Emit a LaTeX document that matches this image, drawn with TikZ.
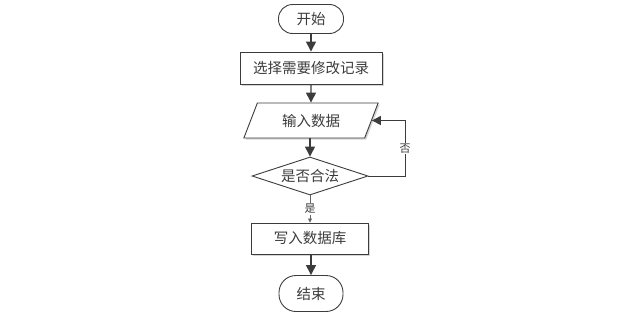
\documentclass[tikz,border=0pt]{standalone}
\usepackage{fontspec}
\newfontfamily\cjk{Noto Sans CJK SC}
\usetikzlibrary{shapes.geometric,arrows.meta,shadows}
\definecolor{ln}{HTML}{3C3C3C}
\tikzset{
  base/.style={draw=ln, line width=0.9pt, text=ln, inner sep=0pt, font=\cjk\fontsize{14.5}{16}\selectfont},
  sh/.style={drop shadow={shadow xshift=1.6pt, shadow yshift=-1.6pt, fill=gray!45, opacity=0.7}},
  term/.style={base, rectangle, rounded corners=14pt, minimum width=65pt, minimum height=29pt},
  proc/.style={base, sh, fill=white, rectangle, minimum height=32pt},
  io/.style={base, sh, fill=white, trapezium, trapezium left angle=61.5, trapezium right angle=118.5, trapezium stretches=true, minimum width=135pt, minimum height=35pt},
  dec/.style={base, fill=white, diamond, aspect=3.05, inner sep=0pt, minimum width=116pt, minimum height=38pt},
  arr/.style={draw=ln, line width=1.4pt, -{Triangle[length=10pt,width=10pt]}},
  thinarr/.style={draw=ln!80, line width=0.8pt, -{Triangle[length=4pt,width=4pt]}},
  lbl/.style={fill=white, text=ln, inner sep=1pt, font=\cjk\fontsize{11}{12}\selectfont}
}
\begin{document}
\begin{tikzpicture}[x=1pt,y=-1pt]
\useasboundingbox[fill=white] (0,0) rectangle (642,316);
\node[term] (start) at (311,19) {开始};
\node[proc, minimum width=142pt] (sel) at (311,68) {选择需要修改记录};
\node[io] (in) at (311,120.5) {输入数据};
\node[dec] (chk) at (310,176) {是否合法};
\node[proc, minimum width=117pt, minimum height=31pt] (wr) at (310,238.5) {写入数据库};
\node[term, minimum width=64pt, minimum height=36pt, rounded corners=17pt] (end) at (311,293.5) {结束};
\draw[arr] (start) -- (sel);
\draw[arr] (sel) -- (in);
\draw[arr] (in.south -| chk.north) -- (chk);
\draw[thinarr] (chk) -- node[lbl, pos=0.5] {是} (wr);
\draw[arr] (wr.south -| end.north) -- (end);
\coordinate (cr) at (405,176);
\draw[draw=ln, line width=0.9pt, -{Triangle[length=9pt,width=9pt]}] (chk.east) -- (cr) |- node[lbl, pos=0.25] {否} (in.east);
\end{tikzpicture}
\end{document}
